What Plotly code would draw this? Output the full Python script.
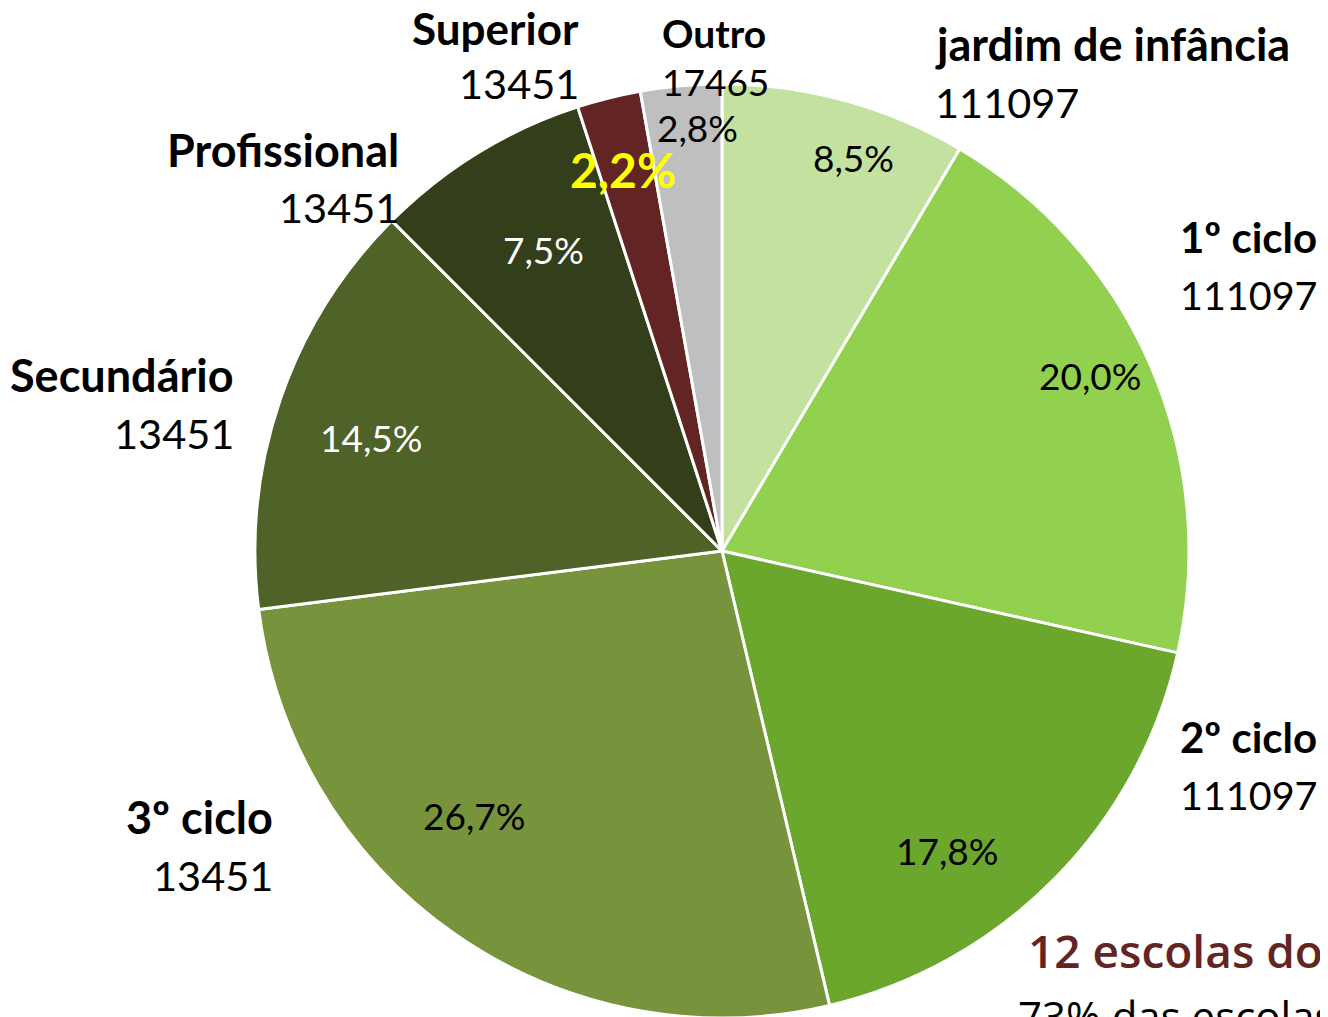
import plotly.graph_objects as go

W, H = 1328, 1017
OFF = 8  # page body margin of the browser

categories = ["jardim de infância", "1º ciclo", "2º ciclo", "3º ciclo",
              "Secundário", "Profissional", "Superior", "Outro"]
shares = [8.5, 20.0, 17.8, 26.7, 14.5, 7.5, 2.2, 2.8]
counts = ["111097", "111097", "111097", "13451", "13451", "13451", "13451", "17465"]
colors = ["#C3E29F", "#92D050", "#6AA72C", "#77933C", "#4F6228", "#333F1B", "#632523", "#BFBFBF"]
pct_colors = ["black", "black", "black", "black", "white", "white", "#FFFF00", "black"]

FONT = "Lato"

# pie centre (722, 551) px, radius ~467 px in the screenshot
cx, cy, r = 722 - OFF, 551 - OFF, 467

fig = go.Figure(go.Pie(
    labels=categories,
    values=shares,
    sort=False,
    direction="clockwise",
    rotation=0,
    marker=dict(colors=colors, line=dict(color="white", width=3)),
    textinfo="none",
    hoverinfo="label+percent",
    showlegend=False,
    domain=dict(x=[(cx - r) / W, (cx + r) / W],
                y=[max(0, (H - cy - r) / H), (H - cy + r) / H]),
))


def P(x, y):
    return (x - OFF) / W, 1 - (y - OFF) / H


annotations = []


def add(text, x, y, size, color="black", bold=False, xanchor="center",
        font=FONT, weight=None):
    if xanchor == "left":
        x -= 4
    elif xanchor == "right":
        x += 3
    px, py = P(x, y - 3)
    f = dict(family=font, size=size, color=color)
    if weight:
        f["weight"] = weight
    annotations.append(dict(
        text=f"<b>{text}</b>" if bold else text,
        x=px, y=py, xref="paper", yref="paper",
        xanchor=xanchor, yanchor="middle", showarrow=False,
        font=f,
    ))


# outside category labels: (x, name y, count y, anchor, name size, count size)
label_pos = [
    (937, 47, 105, "left", 45, 41.5),
    (1316, 240, 297, "right", 42, 39.5),
    (1316, 740, 797, "right", 42, 39.5),
    (272, 820, 878, "right", 45, 41.5),
    (233, 378, 436, "right", 45, 41.5),
    (398, 153, 210, "right", 45, 41.5),
    (578, 31, 86, "right", 44, 41.5),
    (664, 36, 85, "left", 39, 37),
]
for cat, cnt, (x, y1, y2, anc, s1, s2) in zip(categories, counts, label_pos):
    add(cat, x, y1, s1, bold=True, xanchor=anc)
    add(cnt, x, y2, s2, xanchor=anc)

# percentage labels
pct_pos = [(853, 160), (1090, 379), (947, 853), (474, 818),
           (371, 440), (543, 253), (623, 172), (697, 130)]
for s, c, (x, y) in zip(shares, pct_colors, pct_pos):
    txt = f"{s:.1f}".replace(".", ",") + "%"
    if c == "#FFFF00":
        add(txt, x, y, 48, color=c, bold=True)
    else:
        add(txt, x, y, 37, color=c)

add("12 escolas do", 1030, 953, 46, color="#632523", xanchor="left",
    font="Open Sans", weight=600)
add("73% das escolas", 1020, 1018, 42, xanchor="left", font="Open Sans")

fig.update_layout(
    width=W, height=H,
    margin=dict(l=0, r=0, t=0, b=0),
    paper_bgcolor="white", plot_bgcolor="white",
    annotations=annotations,
)

fig.write_html("out.html")
